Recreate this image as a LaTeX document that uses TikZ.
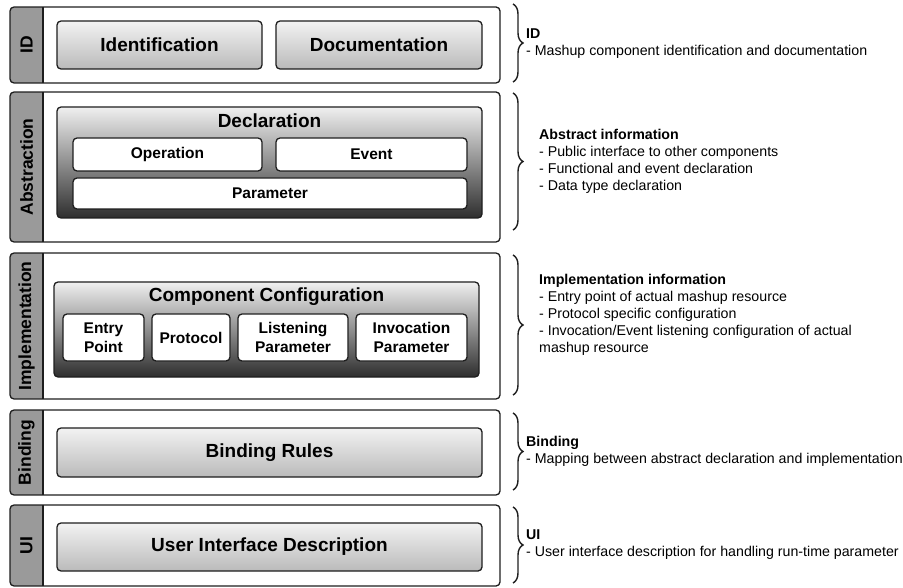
\documentclass[tikz,border=0pt]{standalone}
\usepackage{fontspec}
\setmainfont{Liberation Sans}
\usetikzlibrary{decorations.pathreplacing}

\definecolor{sidegray}{HTML}{9A9A9A}
\definecolor{edgecol}{HTML}{1E1E1E}

\tikzset{
  edge/.style={draw=edgecol, line width=1.3pt},
  panel/.style={minimum width=490pt, inner sep=0pt, outer sep=0pt},
  sidelabel/.style={rotate=90, font=\bfseries\fontsize{17.5}{20}\selectfont, inner sep=0pt},
  bigbox/.style={edge, rounded corners=4pt, top color=black!5, bottom color=black!27,
    inner sep=0pt, font=\bfseries\fontsize{19}{22}\selectfont},
  darkbox/.style={edge, rounded corners=4pt, top color=black!6, bottom color=black!82,
    inner sep=0pt},
  boxtitle/.style={font=\bfseries\fontsize{19}{22}\selectfont, inner sep=0pt},
  subbox/.style={edge, rounded corners=4pt, fill=white, inner sep=0pt, align=center,
    font=\bfseries\fontsize{15.5}{19}\selectfont},
  note/.style={align=left, anchor=west, inner sep=0pt,
    font=\fontsize{14.2}{17}\selectfont},
  bracepath/.style={draw=edgecol, line width=1.4pt,
    decorate, decoration={brace, amplitude=10pt}},
}

% one layer: white panel, grey side strip with rotated title
\newcommand{\layerpanel}[4]{%
  \node[panel, minimum height={#3-#2}, anchor=north west] (#1) at (10,#2) {};
  \begin{scope}
    \clip[rounded corners=4pt] (#1.north west) rectangle (#1.south east);
    \fill[white] (#1.north west) rectangle (#1.south east);
    \fill[sidegray] (#1.north west) rectangle ([xshift=33pt]#1.south west);
  \end{scope}
  \draw[edge] ([xshift=33pt]#1.north west) -- ([xshift=33pt]#1.south west);
  \draw[edge, rounded corners=4pt] (#1.north west) rectangle (#1.south east);
  \node[sidelabel] (#1-label) at ([xshift=16.5pt]#1.west) {#4};
}

\begin{document}
\begin{tikzpicture}[x=1pt, y=-1pt]
\useasboundingbox (0,0) rectangle (903,588);

% ---------- layers ----------
\layerpanel{pid}{7}{83}{ID}
\layerpanel{pabs}{92}{242}{Abstraction}
\layerpanel{pimpl}{253}{399}{Implementation}
\layerpanel{pbind}{410}{495}{Binding}
\layerpanel{pui}{505}{586}{UI}

% ---------- ID ----------
\node[bigbox, minimum width=205pt, minimum height=48pt] (ident) at (159.5,45) {Identification};
\node[bigbox, minimum width=206pt, minimum height=48pt] (doc) at (379,45) {Documentation};

% ---------- Abstraction ----------
\node[darkbox, minimum width=425pt, minimum height=111pt] (decl) at (269.5,162.5) {};
\node[boxtitle, anchor=center] (decl-title) at (269.5,121) {Declaration};
\node[subbox, minimum width=189pt, minimum height=33pt] (oper) at (167.5,154.5) {Operation};
\node[subbox, minimum width=191pt, minimum height=33pt] (event) at (371.5,154.5) {Event};
\node[subbox, minimum width=394pt, minimum height=31pt] (param) at (270,193.5) {Parameter};

% ---------- Implementation ----------
\node[darkbox, minimum width=425pt, minimum height=95pt] (conf) at (266.5,329.5) {};
\node[boxtitle, anchor=center] (conf-title) at (266.5,297) {Component Configuration};
\node[subbox, minimum width=81pt, minimum height=47pt] (entry) at (103.5,337.5) {Entry\\Point};
\node[subbox, minimum width=78pt, minimum height=47pt] (proto) at (191,337.5) {Protocol};
\node[subbox, minimum width=110pt, minimum height=47pt] (listen) at (293,337.5) {Listening\\Parameter};
\node[subbox, minimum width=111pt, minimum height=47pt] (invoc) at (411.5,337.5) {Invocation\\Parameter};

% ---------- Binding ----------
\node[bigbox, minimum width=425pt, minimum height=49pt] (rules) at (269.5,452.5) {Binding Rules};

% ---------- UI ----------
\node[bigbox, minimum width=425pt, minimum height=48pt] (uidesc) at (269.5,547) {User Interface Description};

% ---------- braces ----------
\coordinate (b1a) at (513,4);   \coordinate (b1b) at (513,82);
\coordinate (b2a) at (513,93);  \coordinate (b2b) at (513,230);
\coordinate (b3a) at (513,255); \coordinate (b3b) at (513,395);
\coordinate (b4a) at (513,413); \coordinate (b4b) at (513,490);
\coordinate (b5a) at (513,507); \coordinate (b5b) at (513,583);
\draw[bracepath] (b1a) -- (b1b);
\draw[bracepath] (b2a) -- (b2b);
\draw[bracepath] (b3a) -- (b3b);
\draw[bracepath] (b4a) -- (b4b);
\draw[bracepath] (b5a) -- (b5b);

% ---------- notes ----------
\node[note] (n1) at (526,43.5) {\textbf{ID}\\- Mashup component identification and documentation};
\node[note] (n2) at (539,161) {\textbf{Abstract information}\\- Public interface to other components\\- Functional and event declaration\\- Data type declaration};
\node[note] (n3) at (539,315) {\textbf{Implementation information}\\- Entry point of actual mashup resource\\- Protocol specific configuration\\- Invocation/Event listening configuration of actual\\mashup resource};
\node[note] (n4) at (526,451.5) {\textbf{Binding}\\- Mapping between abstract declaration and implementation};
\node[note] (n5) at (526,544.5) {\textbf{UI}\\- User interface description for handling run-time parameter};
\end{tikzpicture}
\end{document}
